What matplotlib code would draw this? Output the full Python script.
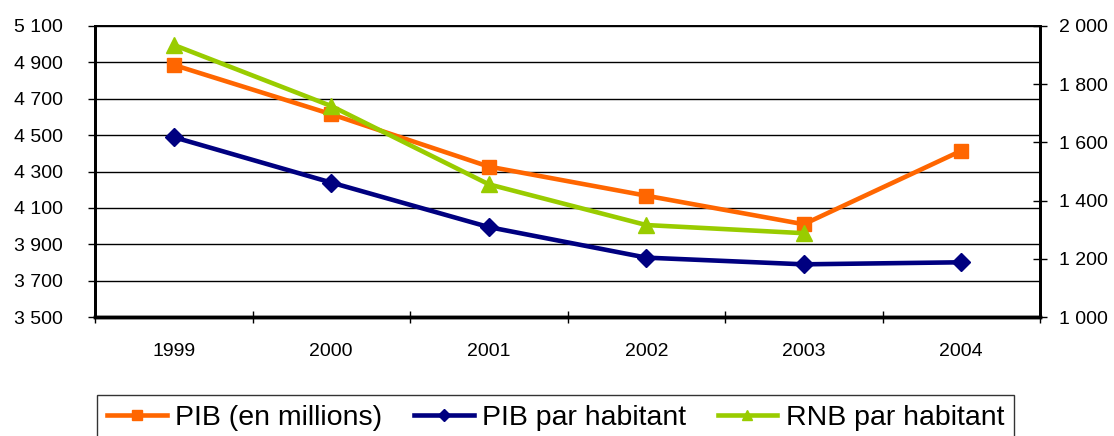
import matplotlib
matplotlib.use("Agg")
import matplotlib.pyplot as plt
from matplotlib.ticker import FuncFormatter

plt.rcParams['font.family'] = ['Liberation Sans', 'DejaVu Sans']

# data
years = ['1999', '2000', '2001', '2002', '2003', '2004']
pib_millions = [4886, 4615, 4327, 4167, 4010, 4414]        # left axis
pib_habitant = [1618, 1462, 1309, 1204, 1181, 1188]        # right axis
rnb_habitant = [1935, 1725, 1456, 1316, 1288]              # right axis (no 2004)

left_ticks = list(range(3500, 5101, 200))
right_ticks = list(range(1000, 2001, 200))

orange = '#FF6600'
navy = '#000080'
green = '#99CC00'


def spaced(v, pos=None):
    # French style thousands separator
    return f"{int(v):,}".replace(',', ' ')


fig = plt.figure(figsize=(11.14, 4.36), dpi=100)
ax = fig.add_axes([95 / 1114, 1 - 317 / 436, (1040 - 95) / 1114, (317 - 26) / 436])
ax2 = ax.twinx()

x = list(range(len(years)))

l1, = ax.plot(x, pib_millions, color=orange, lw=3.3, marker='s', ms=10,
              label='PIB (en millions)', zorder=3)
l2, = ax2.plot(x, pib_habitant, color=navy, lw=3.3, marker='D', ms=9,
               label='PIB par habitant', zorder=3)
l3, = ax2.plot(x[:len(rnb_habitant)], rnb_habitant, color=green, lw=3.3,
               marker='^', ms=11, label='RNB par habitant', zorder=4)

ax.set_xlim(-0.5, len(years) - 0.5)
ax.set_ylim(3500, 5100)
ax2.set_ylim(1000, 2000)

ax.set_yticks(left_ticks)
ax.yaxis.set_major_formatter(FuncFormatter(spaced))
ax2.set_yticks(right_ticks)
ax2.yaxis.set_major_formatter(FuncFormatter(spaced))

# category labels between boundary ticks
ax.set_xticks([i - 0.5 for i in range(len(years) + 1)])
ax.set_xticklabels([])
ax.set_xticks(x, minor=True)
ax.set_xticklabels(years, minor=True)
ax.tick_params(axis='x', which='major', direction='inout', length=9, width=1)
ax.tick_params(axis='x', which='minor', length=0, pad=18.5, labelsize=14)

ax.tick_params(axis='y', direction='out', length=5, width=1, pad=18, labelsize=14)
ax2.tick_params(axis='y', direction='inout', length=10, width=1, pad=9, labelsize=14)

ax.grid(axis='y', color='black', lw=1)
ax.set_axisbelow(True)

for a in (ax, ax2):
    for s in a.spines.values():
        s.set_color('black')
    a.spines['left'].set_linewidth(2)
    a.spines['bottom'].set_linewidth(2.5)
    a.spines['right'].set_linewidth(2)
    a.spines['top'].set_linewidth(1.2)

leg = fig.legend(handles=[l1, l2, l3], loc='upper left',
                 bbox_to_anchor=(97 / 1114, 1 - 395 / 436), ncol=3,
                 fontsize=20.5, frameon=True, fancybox=False, edgecolor='black',
                 handlelength=2.1, handletextpad=0.3, columnspacing=1.1,
                 markerscale=0.65, borderpad=0.35, borderaxespad=0)
leg.get_frame().set_linewidth(1)

fig.savefig('out.png', dpi=100)
